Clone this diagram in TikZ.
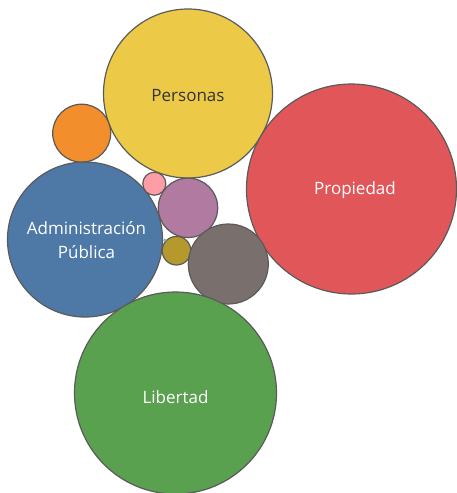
\documentclass[tikz,border=0pt]{standalone}
\usepackage{fontspec}
\setmainfont{Open Sans}
\definecolor{cblue}{HTML}{4E79A7}
\definecolor{corange}{HTML}{F28E2B}
\definecolor{cred}{HTML}{E15759}
\definecolor{cteal}{HTML}{76B7B2}
\definecolor{cgreen}{HTML}{59A14F}
\definecolor{cyellow}{HTML}{EDC948}
\definecolor{cpurple}{HTML}{B07AA1}
\definecolor{cpink}{HTML}{FF9DA7}
\definecolor{cgray}{HTML}{79706E}
\definecolor{colive}{HTML}{B6992D}
\definecolor{cedge}{HTML}{5A5A5A}
\definecolor{cdark}{HTML}{333333}
\begin{document}
\begin{tikzpicture}[x=1pt,y=-1pt,
  bubble/.style={circle,draw=cedge,line width=1.2pt,inner sep=0pt,fill=#1},
  lbl/.style={font=\fontsize{17}{24}\selectfont,align=center,text=white}]
\useasboundingbox (0,0) rectangle (457,493);
\node[bubble=cyellow,minimum size=169pt] (personas) at (188,93.5) {};
\node[bubble=cred,minimum size=210pt] (propiedad) at (351.5,189) {};
\node[bubble=corange,minimum size=58pt] (orange) at (81.7,133.2) {};
\node[bubble=cblue,minimum size=155pt] (admin) at (85,239.5) {};
\node[bubble=cpink,minimum size=23pt] (pink) at (154.3,183.7) {};
\node[bubble=cpurple,minimum size=59.4pt] (purple) at (188,207.8) {};
\node[bubble=colive,minimum size=28.6pt] (olive) at (176.5,250.7) {};
\node[bubble=cteal,draw=none,minimum size=3.5pt] (teal) at (164.8,240.2) {};
\node[bubble=cgray,minimum size=80pt] (gray) at (228.3,264) {};
\node[bubble=cgreen,minimum size=202pt] (libertad) at (175.5,393) {};
\node[lbl,text=cdark] (tpersonas) at (188,96) {Personas};
\node[lbl] (tpropiedad) at (355,190) {Propiedad};
\node[lbl] (tadmin) at (86.5,240.5) {Administración\\Pública};
\node[lbl] (tlibertad) at (175.5,397) {Libertad};
\end{tikzpicture}
\end{document}
